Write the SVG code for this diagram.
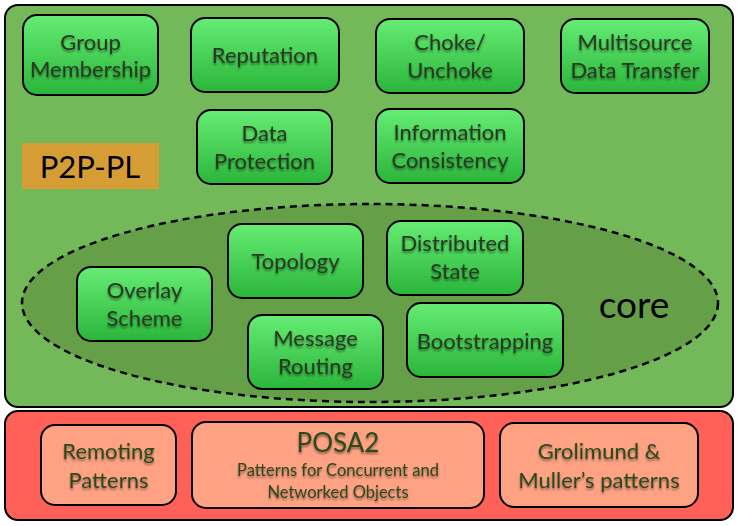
<svg xmlns="http://www.w3.org/2000/svg" width="737" height="526" viewBox="0 0 737 526">
<defs>
<linearGradient id="gn" x1="0" y1="0" x2="0" y2="1">
<stop offset="0" stop-color="#66ec74"/>
<stop offset="1" stop-color="#2bb53a"/>
</linearGradient>
<filter id="sh" x="-10%" y="-20%" width="120%" height="150%">
<feGaussianBlur in="SourceAlpha" stdDeviation="1.2"/>
<feOffset dx="0" dy="1.5" result="b"/>
<feComponentTransfer><feFuncA type="linear" slope="0.45"/></feComponentTransfer>
<feMerge><feMergeNode/><feMergeNode in="SourceGraphic"/></feMerge>
</filter>
</defs>
<style>
.n{fill:url(#gn);stroke:#000;stroke-width:2}
.r{fill:#ffa284;stroke:#000;stroke-width:2}
.t{font-family:Lato,"Liberation Sans",sans-serif;font-size:22px;fill:#273a21;text-anchor:middle;filter:url(#sh)}
.tb{font-family:Lato,"Liberation Sans",sans-serif;font-size:22px;fill:#2c4a1c;text-anchor:middle;filter:url(#sh)}
</style>
<rect x="5" y="5" width="728" height="402" rx="13" fill="#73b95a" stroke="#000" stroke-width="2"/>
<rect x="5" y="411" width="728" height="109" rx="13" fill="#ff6159" stroke="#000" stroke-width="2"/>
<ellipse cx="370" cy="303" rx="348" ry="99" fill="#65a049" stroke="#000" stroke-width="2.5" stroke-dasharray="7,5"/>
<g id="p2ppl"><rect x="22" y="143" width="137" height="46" fill="#d69d35"/>
<text x="90" y="178" font-family="Lato,'Liberation Sans',sans-serif" font-size="31" text-anchor="middle" fill="#000">P2P-PL</text></g>
<text id="core" x="634" y="318" font-family="Lato,'Liberation Sans',sans-serif" font-size="37" text-anchor="middle" fill="#000">core</text>
<g id="connectors"></g>
<g id="group"><rect class="n" x="23" y="15" width="135" height="80" rx="14"/><text class="t" x="90.5" y="50">Group</text><text class="t" x="90.5" y="77">Membership</text></g>
<g id="reputation"><rect class="n" x="191" y="18" width="148" height="74" rx="14"/><text class="t" x="265" y="63">Reputation</text></g>
<g id="choke"><rect class="n" x="376" y="19" width="148" height="74" rx="14"/><text class="t" x="450" y="50">Choke/</text><text class="t" x="450" y="78">Unchoke</text></g>
<g id="multisource"><rect class="n" x="561" y="19" width="148" height="74" rx="14"/><text class="t" x="635" y="50">Multisource</text><text class="t" x="635" y="78">Data Transfer</text></g>
<g id="dataprot"><rect class="n" x="197" y="110" width="135" height="74" rx="14"/><text class="t" x="264.5" y="141">Data</text><text class="t" x="264.5" y="169">Protection</text></g>
<g id="infocons"><rect class="n" x="376" y="109" width="148" height="74" rx="14"/><text class="t" x="450" y="140">Information</text><text class="t" x="450" y="168">Consistency</text></g>
<g id="overlay"><rect class="n" x="77" y="267" width="135" height="74" rx="14"/><text class="t" x="144.5" y="298">Overlay</text><text class="t" x="144.5" y="326">Scheme</text></g>
<g id="topology"><rect class="n" x="228" y="224" width="135" height="74" rx="14"/><text class="t" x="295.5" y="269">Topology</text></g>
<g id="message"><rect class="n" x="248" y="315" width="135" height="74" rx="14"/><text class="t" x="315.5" y="346">Message</text><text class="t" x="315.5" y="374">Routing</text></g>
<g id="diststate"><rect class="n" x="387" y="221" width="136" height="74" rx="14"/><text class="t" x="455" y="251">Distributed</text><text class="t" x="455" y="279">State</text></g>
<g id="bootstrap"><rect class="n" x="407" y="303" width="156" height="74" rx="14"/><text class="t" x="485" y="349">Bootstrapping</text></g>
<g id="remoting"><rect class="r" x="41" y="425" width="135" height="80" rx="14"/><text class="tb" x="108.5" y="459">Remoting</text><text class="tb" x="108.5" y="488">Patterns</text></g>
<g id="posa2"><rect class="r" x="192" y="422" width="292" height="86" rx="14"/><text class="tb" x="338" y="452" style="font-size:26px">POSA2</text><text class="tb" x="338" y="476" style="font-size:16.5px">Patterns for Concurrent and</text><text class="tb" x="338" y="498" style="font-size:16.5px">Networked Objects</text></g>
<g id="grolimund"><rect class="r" x="500" y="423" width="198" height="84" rx="14"/><text class="tb" x="599" y="459">Grolimund &amp;</text><text class="tb" x="599" y="488">Muller’s patterns</text></g>
</svg>
